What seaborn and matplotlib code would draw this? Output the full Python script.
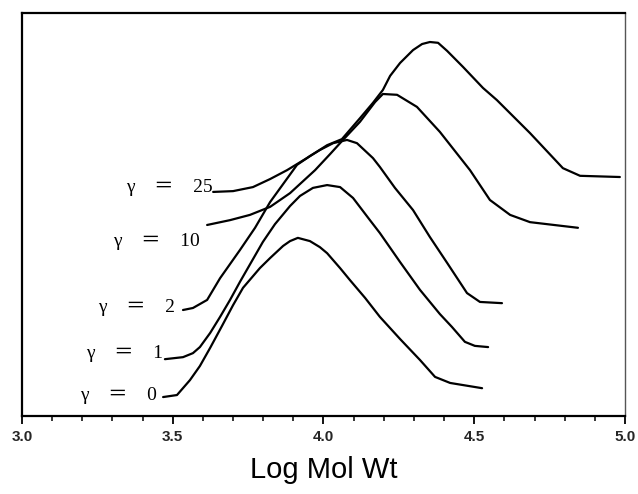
import numpy as np
import pandas as pd
import matplotlib
matplotlib.use("Agg")
import matplotlib.pyplot as plt
import seaborn as sns
from matplotlib.ticker import MultipleLocator

# ---- data: x = Log Mol Wt, y = detector response (arb. units) ----
x_g0 = [3.468, 3.514, 3.557, 3.590, 3.624, 3.663, 3.700, 3.733, 3.789, 3.823, 3.866, 3.889, 3.915,
        3.955, 3.988, 4.012, 4.055, 4.088, 4.138, 4.187, 4.254, 4.320, 4.370, 4.420, 4.526]
y_g0 = [4.7, 5.2, 8.9, 12.4, 16.9, 22.3, 27.5, 31.8, 36.7, 39.2, 42.2, 43.4, 44.2,
        43.4, 41.9, 40.4, 36.7, 33.7, 29.3, 24.6, 19.1, 13.9, 9.7, 8.2, 6.9]

x_g1 = [3.474, 3.534, 3.567, 3.590, 3.624, 3.657, 3.690, 3.723, 3.799, 3.839, 3.889, 3.922, 3.965,
        4.012, 4.055, 4.098, 4.154, 4.187, 4.254, 4.320, 4.386, 4.426, 4.469, 4.502, 4.546]
y_g1 = [14.1, 14.6, 15.6, 17.1, 20.6, 24.6, 28.8, 33.3, 43.2, 47.6, 52.1, 54.6, 56.6,
        57.3, 56.8, 54.1, 48.6, 45.4, 38.2, 31.3, 25.3, 22.1, 18.4, 17.4, 17.1]

x_g2 = [3.534, 3.567, 3.614, 3.657, 3.723, 3.773, 3.823, 3.912, 3.955, 3.988, 4.032, 4.078,
        4.111, 4.164, 4.187, 4.237, 4.297, 4.353, 4.410, 4.476, 4.519, 4.592]
y_g2 = [26.3, 26.8, 28.8, 34.2, 41.2, 46.7, 53.1, 62.3, 64.5, 66.0, 67.7, 68.5,
        67.7, 64.0, 61.8, 56.6, 51.1, 44.4, 38.0, 30.5, 28.3, 28.0]

x_g10 = [3.614, 3.690, 3.756, 3.823, 3.889, 3.972, 4.022, 4.061, 4.121, 4.171, 4.197, 4.244,
         4.310, 4.386, 4.486, 4.552, 4.619, 4.685, 4.844]
y_g10 = [47.4, 48.6, 49.9, 51.9, 55.3, 61.0, 65.0, 68.2, 73.0, 77.9, 79.9, 79.7,
         76.7, 70.5, 61.0, 53.6, 49.9, 48.1, 46.7]

x_g25 = [3.634, 3.700, 3.766, 3.823, 3.879, 3.945, 4.012, 4.061, 4.121, 4.164, 4.197, 4.221, 4.254,
         4.297, 4.327, 4.353, 4.380, 4.410, 4.463, 4.529, 4.575, 4.685, 4.794, 4.851, 4.983]
y_g25 = [55.6, 55.8, 56.8, 58.8, 61.0, 64.0, 67.2, 68.7, 73.9, 77.7, 80.9, 84.4, 87.6,
         90.8, 92.3, 92.8, 92.6, 90.6, 86.6, 81.4, 78.4, 70.2, 61.5, 59.6, 59.3]

series_names = ["γ　＝　0", "γ　＝　1", "γ　＝　2", "γ　＝　10", "γ　＝　25"]
xs = [x_g0, x_g1, x_g2, x_g10, x_g25]
ys = [y_g0, y_g1, y_g2, y_g10, y_g25]

frames = []
for name, xv, yv in zip(series_names, xs, ys):
    frames.append(pd.DataFrame({"logmw": xv, "resp": yv, "series": name}))
df = pd.concat(frames, ignore_index=True)

sns.set_theme(style="white")
plt.rcParams["font.family"] = ["Liberation Sans", "DejaVu Sans"]

fig = plt.figure(figsize=(6.38, 4.94), dpi=100)
ax = fig.add_axes([0.0345, 0.1579, 0.9451, 0.8158])

sns.lineplot(data=df, x="logmw", y="resp", hue="series", units="series",
             estimator=None, sort=False, palette=["black"] * 5,
             linewidth=1.6, legend=False, ax=ax)
for ln in ax.get_lines():
    ln.set_solid_joinstyle("round")
    ln.set_solid_capstyle("round")

ax.set_xlim(3.0, 5.0)
ax.set_ylim(0, 100)
ax.set_yticks([])
ax.set_ylabel("")
ax.xaxis.set_major_locator(MultipleLocator(0.5))
ax.xaxis.set_minor_locator(MultipleLocator(0.1))
ax.tick_params(axis="x", which="major", direction="out", length=6, width=1.3,
               bottom=True, labelsize=11, pad=4, color="black")
ax.tick_params(axis="x", which="minor", direction="out", length=3.5, width=1.1,
               bottom=True, color="black")
ax.set_xticks([3.0, 3.5, 4.0, 4.5, 5.0])
ax.set_xticklabels(["3.0", "3.5", "4.0", "4.5", "5.0"], fontweight="bold")

for side in ["left", "top", "bottom"]:
    ax.spines[side].set_color("black")
    ax.spines[side].set_linewidth(1.6)
ax.spines["right"].set_color("#555555")
ax.spines["right"].set_linewidth(1.0)

ax.set_xlabel("Log Mol Wt", fontsize=21, labelpad=9, color="black")

# curve labels (right edge, vertical centre) in data units
label_pos = {"γ　＝　0": (3.448, 5.2), "γ　＝　1": (3.468, 15.6), "γ　＝　2": (3.507, 27.0),
             "γ　＝　10": (3.590, 43.2), "γ　＝　25": (3.633, 56.6)}
for name in series_names:
    lx, ly = label_pos[name]
    ax.text(lx, ly, name, ha="right", va="center", fontsize=14,
            family=["Liberation Serif", "Noto Sans CJK JP", "DejaVu Serif"], color="black")

fig.savefig("out.png", dpi=100, facecolor="white")
